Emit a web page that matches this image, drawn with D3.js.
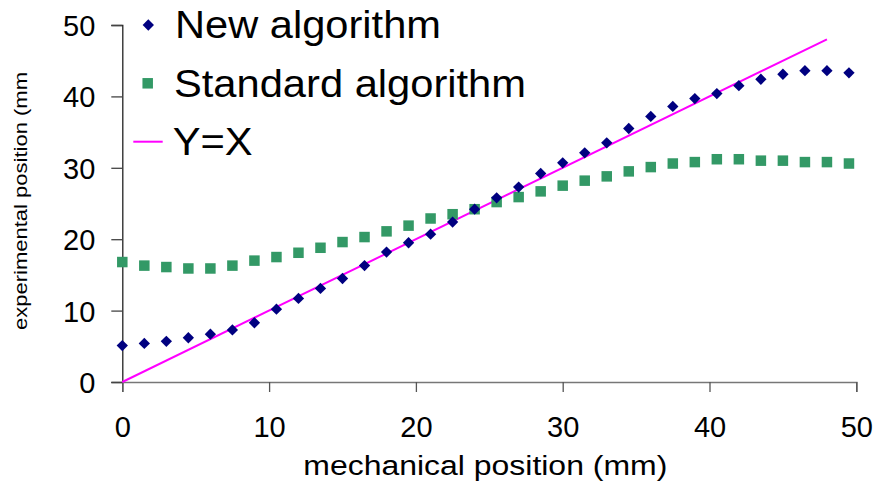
<!DOCTYPE html>
<html>
<head>
<meta charset="utf-8">
<script src="https://cdn.jsdelivr.net/npm/d3@7"></script>
<style>
  html, body { margin: 0; padding: 0; background: #fff; }
  svg { display: block; font-family: "Liberation Sans", Arial, sans-serif; }
</style>
</head>
<body>
<svg id="chart" width="879" height="484"></svg>
<script>
// Mechanical positions (mm), sampled every 1.5 mm
const mechanical = [0, 1.5, 3, 4.5, 6, 7.5, 9, 10.5, 12, 13.5, 15, 16.5, 18, 19.5, 21, 22.5,
  24, 25.5, 27, 28.5, 30, 31.5, 33, 34.5, 36, 37.5, 39, 40.5, 42, 43.5, 45, 46.5, 48, 49.5];

// Experimental positions (mm) measured with each algorithm
const newAlgorithm = [5.1, 5.4, 5.7, 6.2, 6.7, 7.3, 8.3, 10.2, 11.7, 13.1, 14.5, 16.3, 18.2, 19.5,
  20.7, 22.4, 24.2, 25.8, 27.3, 29.2, 30.7, 32.1, 33.5, 35.5, 37.2, 38.6, 39.7, 40.4, 41.5, 42.4,
  43.1, 43.6, 43.6, 43.3];
const standardAlgorithm = [16.8, 16.3, 16.1, 15.9, 15.9, 16.3, 17.0, 17.5, 18.1, 18.8, 19.6, 20.3,
  21.1, 21.9, 22.9, 23.5, 24.2, 25.2, 25.9, 26.7, 27.5, 28.2, 28.8, 29.5, 30.1, 30.6, 30.8, 31.2,
  31.2, 31.0, 31.0, 30.8, 30.8, 30.6];

// Reference line Y = X
const identityLine = [[0, 0], [48, 48]];

const xTicks = [0, 10, 20, 30, 40, 50];
const yTicks = [0, 10, 20, 30, 40, 50];

const legendLabels = ["New algorithm", "Standard algorithm", "Y=X"];
const xTitle = "mechanical position (mm)";
const yTitle = "experimental position (mm";

const svg = d3.select("#chart");

const x = d3.scaleLinear().domain([0, 50]).range([122.3, 856.3]);
const y = d3.scaleLinear().domain([0, 50]).range([382, 25]);

// Y axis: ticks on the left, labels right-aligned
const yAxis = d3.axisLeft(y).tickValues(yTicks).tickSize(11).tickPadding(16);
const gy = svg.append("g").attr("transform", `translate(${x(0)},0)`).call(yAxis);
gy.select(".domain").attr("stroke", "#222").attr("stroke-width", 1.3);
gy.selectAll(".tick line").attr("stroke", "#444").attr("stroke-width", 1.3);
gy.selectAll(".tick text")
  .attr("fill", "#000")
  .style("font-size", "29px")
  .attr("dy", "0.36em");

// X axis: ticks below
const xAxis = d3.axisBottom(x).tickValues(xTicks).tickSize(10).tickSizeOuter(10).tickPadding(24);
const gx = svg.append("g").attr("transform", `translate(0,${y(0)})`).call(xAxis);
gx.select(".domain").attr("stroke", "#777").attr("stroke-width", 1.6);
gx.selectAll(".tick line").attr("stroke", "#555").attr("stroke-width", 1.3);
gx.selectAll(".tick text")
  .attr("fill", "#000")
  .style("font-size", "29px")
  .attr("dy", "0.71em");

// Y = X line
svg.append("path")
  .datum(identityLine)
  .attr("fill", "none")
  .attr("stroke", "#ff00ff")
  .attr("stroke-width", 2)
  .attr("d", d3.line().x(d => x(d[0])).y(d => y(d[1])));

// Standard algorithm: green squares
const sq = 10.5;
svg.append("g").selectAll("rect")
  .data(mechanical.map((m, i) => [m, standardAlgorithm[i]]))
  .join("rect")
  .attr("x", d => x(d[0]) - sq / 2)
  .attr("y", d => y(d[1]) - sq / 2)
  .attr("width", sq)
  .attr("height", sq)
  .attr("fill", "#339966");

// New algorithm: navy diamonds (squares turned 45 degrees)
const diamondPath = d3.symbol().type(d3.symbolSquare).size(64);
svg.append("g").selectAll("path")
  .data(mechanical.map((m, i) => [m, newAlgorithm[i]]))
  .join("path")
  .attr("transform", d => `translate(${x(d[0])},${y(d[1])}) rotate(45)`)
  .attr("d", diamondPath)
  .attr("fill", "#000080");

// Legend
const legend = svg.append("g");
legend.append("path")
  .attr("transform", "translate(148.3,25) rotate(45)")
  .attr("d", diamondPath)
  .attr("fill", "#000080");
legend.append("rect")
  .attr("x", 147.7 - sq / 2).attr("y", 83.3 - sq / 2)
  .attr("width", sq).attr("height", sq)
  .attr("fill", "#339966");
legend.append("line")
  .attr("x1", 133.3).attr("x2", 162.7)
  .attr("y1", 141.7).attr("y2", 141.7)
  .attr("stroke", "#ff00ff").attr("stroke-width", 2);

const legendRows = [
  { text: legendLabels[0], x: 175, y: 38.3, w: 266 },
  { text: legendLabels[1], x: 174, y: 96.7, w: 352 },
  { text: legendLabels[2], x: 172.7, y: 155, w: 80 }
];
legend.selectAll("text")
  .data(legendRows)
  .join("text")
  .attr("x", d => d.x)
  .attr("y", d => d.y)
  .attr("textLength", d => d.w)
  .attr("lengthAdjust", "spacingAndGlyphs")
  .style("font-size", "38px")
  .attr("fill", "#000")
  .text(d => d.text);

// Axis titles
svg.append("text")
  .attr("x", 303.3)
  .attr("y", 475)
  .attr("textLength", 364)
  .attr("lengthAdjust", "spacingAndGlyphs")
  .style("font-size", "27px")
  .attr("fill", "#000")
  .text(xTitle);

svg.append("text")
  .attr("transform", "translate(27,330) rotate(-90)")
  .attr("x", 0)
  .attr("y", 0)
  .attr("textLength", 258)
  .attr("lengthAdjust", "spacingAndGlyphs")
  .style("font-size", "18px")
  .attr("fill", "#000")
  .text(yTitle);
</script>
</body>
</html>
